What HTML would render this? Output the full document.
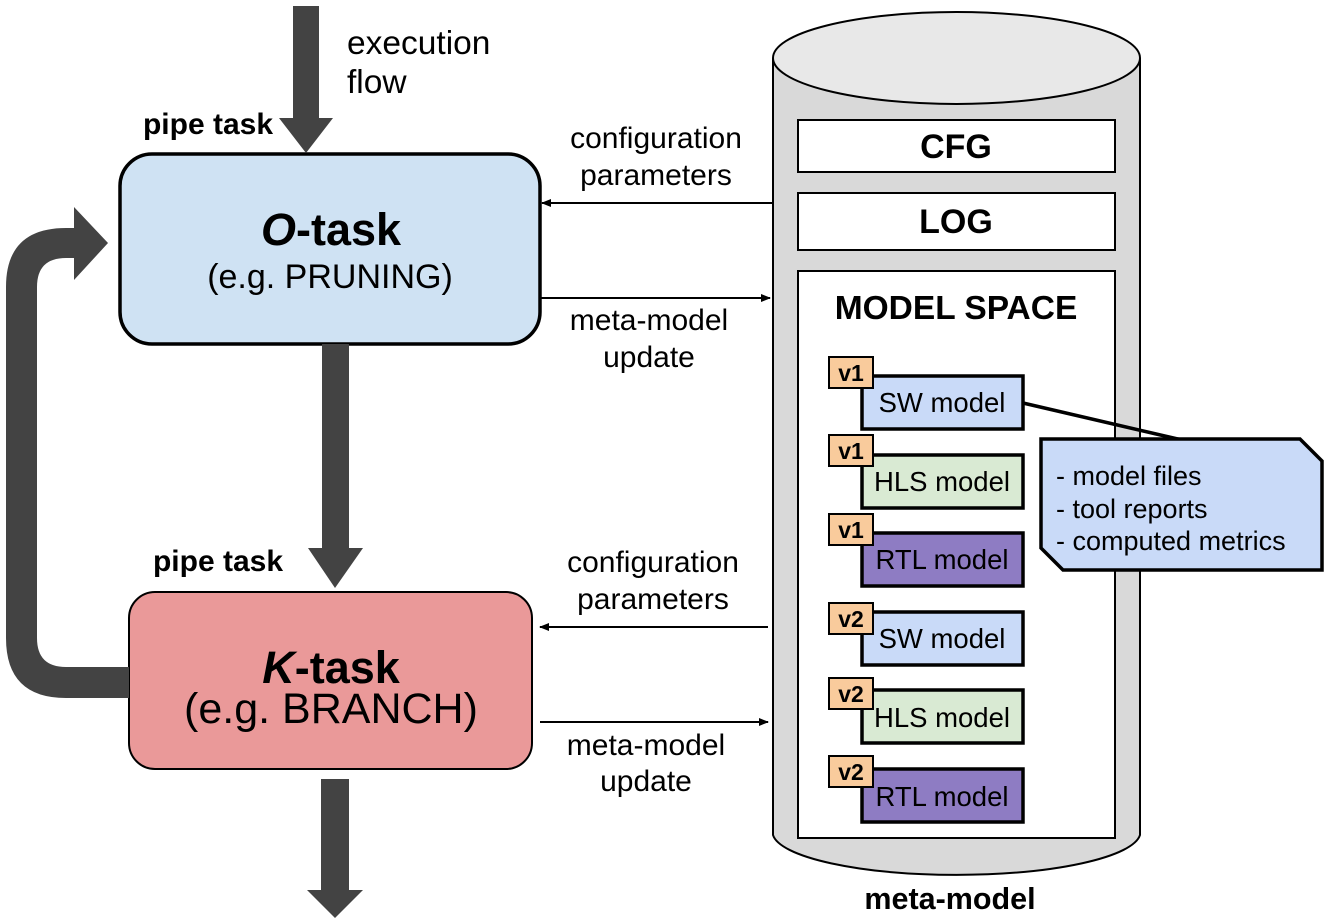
<!DOCTYPE html>
<html><head><meta charset="utf-8"><style>body{margin:0;background:#fff}svg{display:block}</style></head>
<body>
<svg width="1329" height="922" viewBox="0 0 1329 922" xmlns="http://www.w3.org/2000/svg" font-family="Liberation Sans, Arial, sans-serif">
<defs>
<marker id="ah" markerWidth="10" markerHeight="8" refX="9" refY="4" orient="auto" markerUnits="userSpaceOnUse" viewBox="0 0 10 8"><path d="M0,0 L10,4 L0,8 Z" fill="#000"/></marker>
</defs>
<path d="M773,58 L773,835 A184,43 0 0 0 1140,835 L1140,58" fill="#d9d9d9" stroke="#000" stroke-width="2"/>
<ellipse cx="956.5" cy="58" rx="183.5" ry="46" fill="#e8e8e8" stroke="#000" stroke-width="2"/>
<rect x="798" y="120" width="317" height="52" fill="#fff" stroke="#000" stroke-width="2"/>
<text x="956" y="158" font-size="34" font-weight="bold" text-anchor="middle">CFG</text>
<rect x="798" y="193" width="317" height="57" fill="#fff" stroke="#000" stroke-width="2"/>
<text x="956" y="233" font-size="34" font-weight="bold" text-anchor="middle">LOG</text>
<rect x="798" y="271" width="317" height="567" fill="#fff" stroke="#000" stroke-width="2"/>
<text x="956" y="319" font-size="33.5" font-weight="bold" text-anchor="middle">MODEL SPACE</text>
<g stroke="#000" stroke-width="3.5">
<rect x="862" y="376" width="161" height="53" fill="#c9daf8"/>
<rect x="862" y="455" width="161" height="53" fill="#d9ead3"/>
<rect x="862" y="533" width="161" height="53" fill="#8e7cc3"/>
<rect x="862" y="612" width="161" height="53" fill="#c9daf8"/>
<rect x="862" y="690" width="161" height="53" fill="#d9ead3"/>
<rect x="862" y="769" width="161" height="53" fill="#8e7cc3"/>
</g>
<g stroke="#000" stroke-width="2" fill="#f9cb9c">
<rect x="829" y="357" width="44" height="31"/>
<rect x="829" y="435" width="44" height="31"/>
<rect x="829" y="514" width="44" height="31"/>
<rect x="829" y="603" width="44" height="31"/>
<rect x="829" y="678" width="44" height="31"/>
<rect x="829" y="756" width="44" height="31"/>
</g>
<g font-size="23" font-weight="bold" text-anchor="middle">
<text x="851" y="381">v1</text><text x="851" y="459">v1</text><text x="851" y="538">v1</text>
<text x="851" y="627">v2</text><text x="851" y="702">v2</text><text x="851" y="780">v2</text>
</g>
<g font-size="27.5" text-anchor="middle">
<text x="942" y="412">SW model</text><text x="942" y="491">HLS model</text><text x="942" y="569">RTL model</text>
<text x="942" y="648">SW model</text><text x="942" y="727">HLS model</text><text x="942" y="806">RTL model</text>
</g>
<line x1="1023" y1="403" x2="1182" y2="440" stroke="#000" stroke-width="3.5"/>
<path d="M1041,439 L1300,439 L1322,461 L1322,570 L1063,570 L1041,548 Z" fill="#c9daf8" stroke="#000" stroke-width="3.5"/>
<g font-size="27"><text x="1056" y="485">- model files</text><text x="1056" y="518">- tool reports</text><text x="1056" y="550">- computed metrics</text></g>
<text x="950" y="909" font-size="30.5" font-weight="bold" text-anchor="middle">meta-model</text>
<rect x="120" y="154" width="420" height="190" rx="32" fill="#cfe2f3" stroke="#000" stroke-width="3.5"/>
<text x="331" y="245" font-size="45" font-weight="bold" text-anchor="middle"><tspan font-style="italic">O</tspan>-task</text>
<text x="330" y="288" font-size="34" text-anchor="middle">(e.g. PRUNING)</text>
<rect x="129" y="592" width="403" height="177" rx="26" fill="#ea9999" stroke="#000" stroke-width="2"/>
<text x="331" y="683" font-size="45" font-weight="bold" text-anchor="middle"><tspan font-style="italic">K</tspan>-task</text>
<text x="331" y="723" font-size="43" text-anchor="middle">(e.g. BRANCH)</text>
<text x="208" y="134" font-size="30" font-weight="bold" text-anchor="middle">pipe task</text>
<text x="218" y="571" font-size="30" font-weight="bold" text-anchor="middle">pipe task</text>
<text x="347" y="54" font-size="33.5">execution</text><text x="347" y="93" font-size="33.5">flow</text>
<g fill="#434343">
<rect x="293" y="6" width="26" height="113"/><path d="M279,118 L333,118 L306,153 Z"/>
<rect x="322" y="344" width="27" height="205"/><path d="M308,548 L363,548 L335,588 Z"/>
<rect x="321" y="779" width="28" height="112"/><path d="M307,890 L363,890 L335,918 Z"/>
<path d="M129,667 L66,667 Q37,667 37,638 L37,287 Q37,258 66,258 L74,258 L74,280 L108,243 L74,207 L74,228 L66,228 Q6,228 6,287 L6,638 Q6,698 66,698 L129,698 Z"/>
</g>
<g stroke="#000" stroke-width="2" marker-end="url(#ah)">
<line x1="772" y1="203" x2="542" y2="203"/>
<line x1="541" y1="298" x2="770" y2="298"/>
<line x1="768" y1="627" x2="540" y2="627"/>
<line x1="540" y1="722" x2="768" y2="722"/>
</g>
<g font-size="30" text-anchor="middle">
<text x="656" y="148">configuration</text><text x="656" y="185">parameters</text>
<text x="649" y="330">meta-model</text><text x="649" y="367">update</text>
<text x="653" y="572">configuration</text><text x="653" y="609">parameters</text>
<text x="646" y="755">meta-model</text><text x="646" y="791">update</text>
</g>
</svg>
</body></html>
